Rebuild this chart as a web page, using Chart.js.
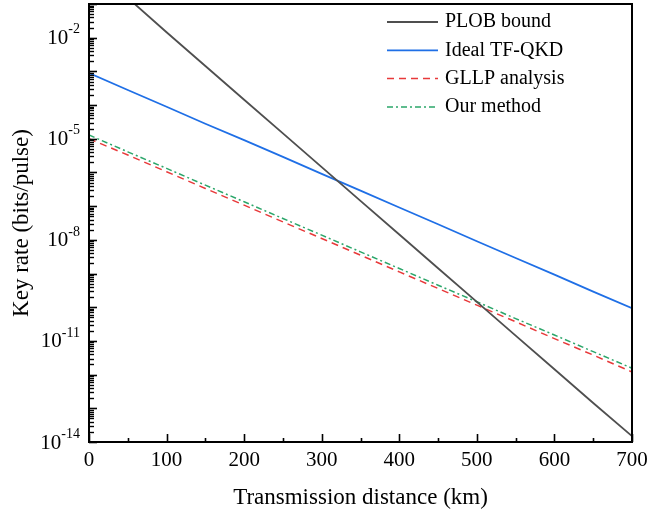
<!DOCTYPE html>
<html>
<head>
<meta charset="utf-8">
<script src="https://cdn.jsdelivr.net/npm/chart.js@4.4.0/dist/chart.umd.min.js"></script>
<style>
  html, body { margin: 0; padding: 0; background: #fff; }
  canvas { display: block; }
</style>
</head>
<body>
<canvas id="myChart" width="650" height="517"></canvas>
<script>
// distance in km
var distance = [0, 50, 100, 150, 200, 250, 300, 350, 400, 450, 500, 550, 600, 650, 700];

// key rates (bits/pulse)
var plobBound = [null, 1.52e-1, 1.45e-2, 1.44e-3, 1.44e-4, 1.44e-5, 1.44e-6, 1.44e-7,
                 1.44e-8, 1.44e-9, 1.44e-10, 1.44e-11, 1.44e-12, 1.44e-13, 1.5e-14];
var idealTF = [8.9e-4, 2.8e-4, 8.9e-5, 2.8e-5, 9.1e-6, 2.9e-6, 9.1e-7, 2.9e-7,
               9.1e-8, 2.9e-8, 9.1e-9, 2.9e-9, 9.3e-10, 2.9e-10, 9.3e-11];
var gllp = [1.0e-5, 3.3e-6, 1.05e-6, 3.35e-7, 1.07e-7, 3.4e-8, 1.1e-8, 3.5e-9,
            1.12e-9, 3.6e-10, 1.15e-10, 3.7e-11, 1.17e-11, 3.8e-12, 1.2e-12];
var ourMethod = [1.29e-5, 4.1e-6, 1.32e-6, 4.2e-7, 1.35e-7, 4.3e-8, 1.38e-8, 4.4e-9,
                 1.41e-9, 4.5e-10, 1.45e-10, 4.6e-11, 1.5e-11, 4.8e-12, 1.55e-12];

var seriesNames = ['PLOB bound', 'Ideal TF-QKD', 'GLLP analysis', 'Our method'];
var xTicks = [0, 100, 200, 300, 400, 500, 600, 700];
var yLabelExps = [-2, -5, -8, -11, -14];

var serif = '"Liberation Serif", "Times New Roman", serif';

function toPoints(values) {
    var pts = [];
    for (var i = 0; i < distance.length; i++) {
        if (values[i] !== null) pts.push({ x: distance[i], y: values[i] });
    }
    return pts;
}

// inward ticks, box, y labels with superscripts, titles and legend
var decorations = {
    id: 'decorations',
    afterDraw: function (chart) {
        var ctx = chart.ctx;
        var a = chart.chartArea;
        var xs = chart.scales.x, ys = chart.scales.y;
        ctx.save();
        ctx.strokeStyle = '#000';
        ctx.fillStyle = '#000';

        // x ticks
        ctx.lineWidth = 1.6;
        for (var v = 0; v <= 700; v += 50) {
            var px = Math.round(xs.getPixelForValue(v)) + 0.5;
            var len = (v % 100 === 0) ? 8 : 4;
            ctx.beginPath();
            ctx.moveTo(px, a.bottom);
            ctx.lineTo(px, a.bottom - len);
            ctx.stroke();
        }

        // y ticks (decades + minor)
        for (var e = -14; e <= -1; e++) {
            for (var m = 1; m <= 9; m++) {
                var val = m * Math.pow(10, e);
                if (val > 1e-1 + 1e-12) continue;
                var py = Math.round(ys.getPixelForValue(val)) + 0.5;
                var l = (m === 1) ? 8 : 5;
                ctx.lineWidth = (m === 1) ? 1.6 : 1.4;
                ctx.beginPath();
                ctx.moveTo(a.left, py);
                ctx.lineTo(a.left + l, py);
                ctx.stroke();
            }
        }

        // frame
        ctx.lineWidth = 2;
        ctx.strokeRect(a.left, a.top, a.right - a.left, a.bottom - a.top);

        // y labels 10^n
        ctx.textBaseline = 'middle';
        yLabelExps.forEach(function (ex) {
            var py = ys.getPixelForValue(Math.pow(10, ex));
            var expStr = '-' + Math.abs(ex);
            ctx.font = '14px ' + serif;
            var ew = ctx.measureText(expStr).width;
            var right = a.left - 9;
            ctx.textAlign = 'left';
            ctx.fillText(expStr, right - ew, py - 8);
            ctx.font = '21px ' + serif;
            ctx.textAlign = 'right';
            ctx.fillText('10', right - ew, py + 1);
        });

        // axis titles
        ctx.font = '23px ' + serif;
        ctx.textAlign = 'center';
        ctx.fillText('Transmission distance (km)', (a.left + a.right) / 2, 498);
        ctx.save();
        ctx.translate(22, (a.top + a.bottom) / 2);
        ctx.rotate(-Math.PI / 2);
        ctx.fillText('Key rate (bits/pulse)', 0, 0);
        ctx.restore();

        // legend
        ctx.font = '20px ' + serif;
        ctx.textAlign = 'left';
        chart.data.datasets.forEach(function (ds, i) {
            var ly = 22 + i * 28.3;
            ctx.strokeStyle = ds.borderColor;
            ctx.lineWidth = ds.borderWidth;
            ctx.setLineDash(ds.borderDash || []);
            ctx.beginPath();
            ctx.moveTo(387, ly);
            ctx.lineTo(438, ly);
            ctx.stroke();
            ctx.setLineDash([]);
            ctx.fillStyle = '#000';
            ctx.fillText(ds.label, 445, ly);
        });
        ctx.restore();
    }
};

var ctx = document.getElementById('myChart').getContext('2d');
var chart = new Chart(ctx, {
    type: 'line',
    data: {
        datasets: [{
            label: seriesNames[0],
            data: toPoints(plobBound),
            borderColor: '#4f4f4f',
            borderWidth: 1.8
        }, {
            label: seriesNames[1],
            data: toPoints(idealTF),
            borderColor: '#1f6fe6',
            borderWidth: 1.8
        }, {
            label: seriesNames[2],
            data: toPoints(gllp),
            borderColor: '#e8393a',
            borderWidth: 1.5,
            borderDash: [7, 5]
        }, {
            label: seriesNames[3],
            data: toPoints(ourMethod),
            borderColor: '#2ba66a',
            borderWidth: 1.5,
            borderDash: [6, 3, 2, 3]
        }]
    },
    options: {
        responsive: false,
        animation: false,
        layout: { padding: { top: 4, right: 18, left: 0, bottom: 0 } },
        elements: { point: { radius: 0 }, line: { tension: 0 } },
        plugins: { legend: { display: false }, tooltip: { enabled: false } },
        scales: {
            x: {
                type: 'linear',
                min: 0,
                max: 700,
                afterBuildTicks: function (scale) {
                    scale.ticks = xTicks.map(function (v) { return { value: v }; });
                },
                afterFit: function (scale) {
                    scale.height = 75;
                    scale.paddingLeft = 0;
                    scale.paddingRight = 0;
                },
                grid: { display: false, drawTicks: false },
                border: { display: false },
                ticks: {
                    color: '#000',
                    padding: 6,
                    maxRotation: 0,
                    font: { family: serif, size: 21 }
                }
            },
            y: {
                type: 'logarithmic',
                min: 1e-14,
                max: 1e-1,
                afterFit: function (scale) {
                    scale.width = 89;
                    scale.paddingTop = 0;
                    scale.paddingBottom = 0;
                },
                grid: { display: false, drawTicks: false },
                border: { display: false },
                ticks: { display: false }
            }
        }
    },
    plugins: [decorations]
});
</script>
</body>
</html>
